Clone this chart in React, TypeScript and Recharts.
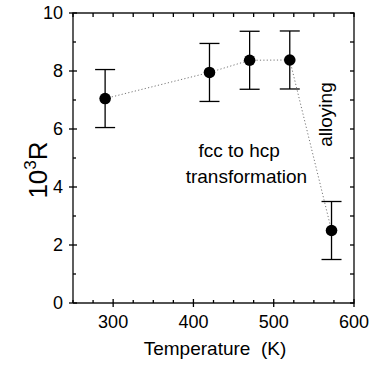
import { ScatterChart, Scatter, XAxis, YAxis, ErrorBar, ReferenceDot } from 'recharts';

// measured points (temperature in K, 10^3 R, error)
const temps = [290, 420, 470, 520, 572];
const rValues = [7.05, 7.95, 8.37, 8.38, 2.5];
const rErrors = [1.0, 1.0, 1.0, 1.0, 1.0];

const xDomain = [250, 600];
const yDomain = [0, 10];
const xMajorTicks = [300, 400, 500, 600];
const xAllTicks = [250, 275, 300, 325, 350, 375, 400, 425, 450, 475, 500, 525, 550, 575, 600];
const yMajorTicks = [0, 2, 4, 6, 8, 10];
const yAllTicks = [0, 1, 2, 3, 4, 5, 6, 7, 8, 9, 10];

const FONT = '"Liberation Sans", Arial, Helvetica, sans-serif';
const INK = '#000';

const data = temps.map((t, i) => ({ t, r: rValues[i], err: rErrors[i] }));

// plot frame corners
const frame = [
  { t: xDomain[0], r: yDomain[0] },
  { t: xDomain[1], r: yDomain[0] },
  { t: xDomain[1], r: yDomain[1] },
  { t: xDomain[0], r: yDomain[1] },
  { t: xDomain[0], r: yDomain[0] },
];
const bottomMarks = xAllTicks.map((t) => ({ t, r: yDomain[0], side: 'b', major: xMajorTicks.includes(t) }));
const topMarks = xAllTicks.map((t) => ({ t, r: yDomain[1], side: 't', major: false }));
const leftMarks = yAllTicks.map((r) => ({ t: xDomain[0], r, side: 'l', major: yMajorTicks.includes(r) }));
const rightMarks = yAllTicks.map((r) => ({ t: xDomain[1], r, side: 'r', major: false }));
const tickMarks = [...bottomMarks, ...topMarks, ...leftMarks, ...rightMarks];

function TickMark(p: any) {
  const { cx, cy, payload } = p;
  const w = 1.3;
  if (payload.side === 'b') {
    return payload.major
      ? <rect x={cx - w / 2} y={cy - 4} width={w} height={8} fill={INK} />
      : <rect x={cx - w / 2} y={cy - 3} width={w} height={3} fill={INK} />;
  }
  if (payload.side === 't') return <rect x={cx - w / 2} y={cy} width={w} height={4} fill={INK} />;
  if (payload.side === 'l') {
    return payload.major
      ? <rect x={cx - 4} y={cy - w / 2} width={8} height={w} fill={INK} />
      : <rect x={cx} y={cy - w / 2} width={3} height={w} fill={INK} />;
  }
  return <rect x={cx - 4} y={cy - w / 2} width={4} height={w} fill={INK} />;
}

function BottomTick(props: any) {
  const { x, y, payload } = props;
  if (!xMajorTicks.includes(payload.value)) return <g />;
  return (
    <text x={x} y={y + 25} textAnchor="middle" fontSize={18} fontFamily={FONT} fill={INK}>
      {payload.value}
    </text>
  );
}

function LeftTick(props: any) {
  const { x, y, payload } = props;
  if (!yMajorTicks.includes(payload.value)) return <g />;
  return (
    <text x={x - 10} y={y + 6} textAnchor="end" fontSize={18} fontFamily={FONT} fill={INK}>
      {payload.value}
    </text>
  );
}

function YTitle() {
  const cx = 47;
  const cy = 170;
  return (
    <text
      x={cx}
      y={cy}
      transform={`rotate(-90, ${cx}, ${cy})`}
      textAnchor="middle"
      fontSize={26}
      fontFamily={FONT}
      fill={INK}
    >
      <tspan>10</tspan>
      <tspan dy={-11} fontSize={17}>3</tspan>
      <tspan dy={11}>R</tspan>
    </text>
  );
}

function XTitle() {
  return (
    <text x={215} y={355} textAnchor="middle" fontSize={19} fontFamily={FONT} fill={INK} xmlSpace="preserve">
      Temperature  (K)
    </text>
  );
}

const noteText = (label: string, rotate = false) => (p: any) => (
  <text
    x={p.cx}
    y={p.cy}
    transform={rotate ? `rotate(-90, ${p.cx}, ${p.cy})` : undefined}
    textAnchor="middle"
    fontSize={19}
    fontFamily={FONT}
    fill={INK}
  >
    {label}
  </text>
);

export default function App() {
  return (
    <div style={{ position: 'absolute', left: 0, top: 0 }}>
      <ScatterChart width={371} height={365} margin={{ top: 13, right: 17, bottom: 0, left: 0 }}>
        <XAxis
          dataKey="t"
          type="number"
          domain={xDomain}
          ticks={xAllTicks}
          interval={0}
          height={62}
          tickSize={0}
          tickMargin={0}
          tickLine={false}
          axisLine={false}
          tick={<BottomTick />}
          label={<XTitle />}
        />
        <YAxis
          dataKey="r"
          type="number"
          domain={yDomain}
          ticks={yAllTicks}
          interval={0}
          width={73}
          tickSize={0}
          tickMargin={0}
          tickLine={false}
          axisLine={false}
          tick={<LeftTick />}
          label={<YTitle />}
        />
        <Scatter
          data={frame}
          isAnimationActive={false}
          line={{ stroke: '#1a1a1a', strokeWidth: 1.4 }}
          lineType="joint"
          shape={() => <g />}
        />
        <Scatter data={tickMarks} isAnimationActive={false} shape={(p: any) => <TickMark {...p} />} />
        <Scatter
          data={data}
          isAnimationActive={false}
          line={{ stroke: '#777', strokeWidth: 1, strokeDasharray: '1.2 2.2' }}
          lineType="joint"
          shape={(p: any) => <circle cx={p.cx} cy={p.cy} r={5.8} fill="#000" />}
        >
          <ErrorBar dataKey="err" direction="y" width={10} stroke={INK} strokeWidth={1.3} isAnimationActive={false} />
        </Scatter>
        <ReferenceDot x={457} y={5.02} r={0} shape={noteText('fcc to hcp')} />
        <ReferenceDot x={466} y={4.15} r={0} shape={noteText('transformation')} />
        <ReferenceDot x={572} y={6.5} r={0} shape={noteText('alloying', true)} />
      </ScatterChart>
    </div>
  );
}
